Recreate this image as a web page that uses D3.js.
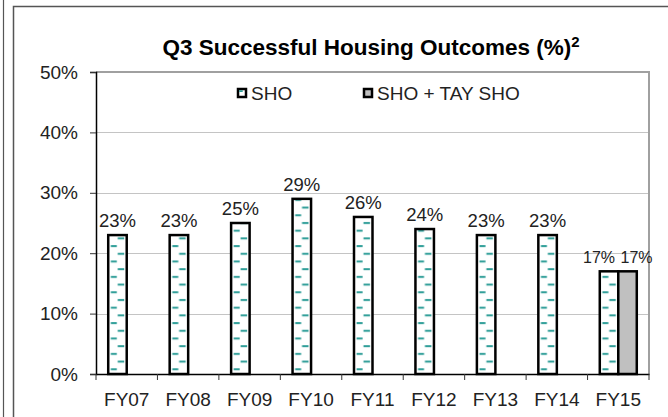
<!DOCTYPE html>
<html>
<head>
<meta charset="utf-8">
<script src="https://cdn.jsdelivr.net/npm/d3@7"></script>
<style>
  html, body { margin: 0; padding: 0; background: #fff; }
  svg text { font-family: "Liberation Sans", Arial, sans-serif; }
</style>
</head>
<body>
<div id="chart"></div>
<script>
var categories = ["FY07", "FY08", "FY09", "FY10", "FY11", "FY12", "FY13", "FY14", "FY15"];
var sho = [23, 23, 25, 29, 26, 24, 23, 23, 17];
var shoTay = [null, null, null, null, null, null, null, null, 17];
var seriesNames = ["SHO", "SHO + TAY SHO"];
var yTicks = [0, 10, 20, 30, 40, 50];

var width = 668, height = 417;
var margin = { left: 96, right: 19, top: 72, bottom: 43 };

var svg = d3.select("#chart").append("svg")
    .attr("width", width)
    .attr("height", height);

// outer frames
svg.append("line").attr("x1", 3.5).attr("x2", 3.5).attr("y1", 0).attr("y2", height)
    .attr("stroke", "#555").attr("stroke-width", 1.2);
svg.append("path").attr("d", "M13.5," + height + "V6.5H" + width)
    .attr("fill", "none").attr("stroke", "#555").attr("stroke-width", 1.5);

var x = d3.scaleBand()
    .domain(categories)
    .range([margin.left, width - margin.right]);

var y = d3.scaleLinear()
    .domain([0, 50])
    .range([height - margin.bottom, margin.top]);

var bw = 18.5;

// dashed fill pattern
var defs = svg.append("defs");
var pat = defs.append("pattern")
    .attr("id", "dash")
    .attr("patternUnits", "userSpaceOnUse")
    .attr("x", x(categories[0]) + x.bandwidth() / 2 - bw)
    .attr("y", y(0))
    .attr("width", x.bandwidth())
    .attr("height", 15.4);
pat.append("rect").attr("width", x.bandwidth()).attr("height", 15.4).attr("fill", "#fff");
pat.append("rect").attr("x", 9.5).attr("y", 2).attr("width", 6.5).attr("height", 2).attr("fill", "#2f9e98");
pat.append("rect").attr("x", 2.6).attr("y", 9.7).attr("width", 6).attr("height", 2).attr("fill", "#2f9e98");

// gridlines
svg.append("g").selectAll("line")
    .data(yTicks.slice(1, -1))
    .enter().append("line")
    .attr("x1", margin.left).attr("x2", width - margin.right)
    .attr("y1", function(d) { return Math.round(y(d)) + 0.5; })
    .attr("y2", function(d) { return Math.round(y(d)) + 0.5; })
    .attr("stroke", "#c4c4c4").attr("stroke-width", 1);

// top + right border of plot
svg.append("path")
    .attr("d", "M" + margin.left + "," + y(50) + "H" + (width - margin.right) + "V" + y(0))
    .attr("fill", "none").attr("stroke", "#a0a0a0").attr("stroke-width", 2);

// bars
var groups = svg.append("g").selectAll("g")
    .data(categories)
    .enter().append("g");

groups.append("rect")
    .attr("x", function(d) { return x(d) + x.bandwidth() / 2 - bw; })
    .attr("y", function(d, i) { return y(sho[i]); })
    .attr("width", bw)
    .attr("height", function(d, i) { return y(0) - y(sho[i]); })
    .attr("fill", "url(#dash)")
    .attr("stroke", "#000").attr("stroke-width", 2.5);

groups.filter(function(d, i) { return shoTay[i] != null; })
    .append("rect")
    .attr("x", function(d) { return x(d) + x.bandwidth() / 2; })
    .attr("y", function(d) { return y(shoTay[categories.indexOf(d)]); })
    .attr("width", bw)
    .attr("height", function(d) { return y(0) - y(shoTay[categories.indexOf(d)]); })
    .attr("fill", "#c0c0c0")
    .attr("stroke", "#000").attr("stroke-width", 2.5);

// value labels
function paired(d) { return shoTay[categories.indexOf(d)] != null; }

groups.append("text")
    .attr("x", function(d) { return x(d) + x.bandwidth() / 2 - bw / 2 - (paired(d) ? 10 : 0); })
    .attr("y", function(d, i) { return y(sho[i]) - 8; })
    .attr("text-anchor", "middle")
    .attr("font-size", function(d) { return paired(d) ? 16 : 18.5; })
    .attr("fill", "#222")
    .text(function(d, i) { return sho[i] + "%"; });

groups.filter(function(d, i) { return shoTay[i] != null; })
    .append("text")
    .attr("x", function(d) { return x(d) + x.bandwidth() / 2 + bw / 2 + 9; })
    .attr("y", function(d) { return y(shoTay[categories.indexOf(d)]) - 8; })
    .attr("text-anchor", "middle")
    .attr("font-size", 16)
    .attr("fill", "#222")
    .text(function(d) { return shoTay[categories.indexOf(d)] + "%"; });

// y axis
var yAxis = svg.append("g")
    .attr("transform", "translate(" + margin.left + ",0)")
    .call(d3.axisLeft(y).tickValues(yTicks).tickSize(6).tickPadding(12)
        .tickFormat(function(d) { return d + "%"; }));
yAxis.select(".domain").attr("stroke", "#000").attr("stroke-width", 1.5);
yAxis.selectAll(".tick line").attr("stroke", "#333");
yAxis.selectAll("text").attr("font-size", 19).attr("fill", "#222")
    .attr("font-family", "Liberation Sans, Arial, sans-serif");

// x axis
var xAxis = svg.append("g")
    .attr("transform", "translate(0," + y(0) + ")")
    .call(d3.axisBottom(x).tickSize(0).tickPadding(19));
xAxis.select(".domain").attr("stroke", "#000").attr("stroke-width", 1.5);
xAxis.selectAll("text").attr("font-size", 19).attr("fill", "#222")
    .attr("font-family", "Liberation Sans, Arial, sans-serif");

var bounds = categories.map(function(d) { return x(d); }).concat([x.range()[1]]);
xAxis.selectAll(".bound")
    .data(bounds)
    .enter().append("line")
    .attr("class", "bound")
    .attr("x1", function(d) { return d; }).attr("x2", function(d) { return d; })
    .attr("y1", 0).attr("y2", 6)
    .attr("stroke", "#333");

// title
var title = svg.append("text")
    .attr("x", 371)
    .attr("y", 55)
    .attr("text-anchor", "middle")
    .attr("font-size", 22.5)
    .attr("font-weight", "bold")
    .attr("fill", "#000")
    .text("Q3 Successful Housing Outcomes (%)");
title.append("tspan").attr("font-size", 15).attr("dy", -8).text("2");

// legend
var legend = svg.append("g").selectAll("g")
    .data(seriesNames)
    .enter().append("g")
    .attr("transform", function(d, i) { return "translate(" + [238, 364][i] + ",89)"; });

legend.append("rect")
    .attr("width", 8).attr("height", 8)
    .attr("fill", function(d, i) { return i === 0 ? "#fff" : "#c0c0c0"; })
    .attr("stroke", "#000").attr("stroke-width", 2.5);
legend.filter(function(d, i) { return i === 0; })
    .append("rect").attr("x", 1.2).attr("y", 1.2).attr("width", 3.5).attr("height", 1.8).attr("fill", "#2f9e98");

legend.append("text")
    .attr("x", 13)
    .attr("y", 11)
    .attr("font-size", 19)
    .attr("fill", "#222")
    .text(function(d) { return d; });
</script>
</body>
</html>
